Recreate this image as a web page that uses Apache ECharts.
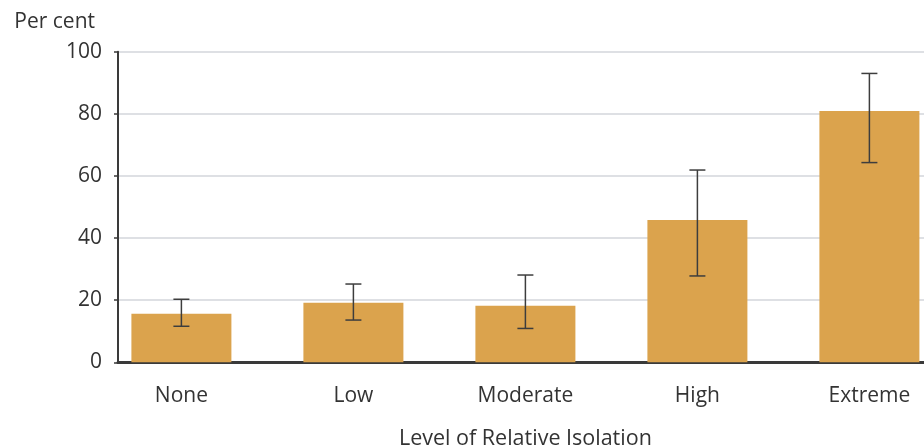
<!DOCTYPE html>
<html><head><meta charset="utf-8">
<script src="https://cdn.jsdelivr.net/npm/echarts@6/dist/echarts.min.js"></script>
<style>html,body{margin:0;padding:0;background:#fff}#c{width:924px;height:448px}</style>
</head><body><div id="c"></div>
<script>
const categories = ['None', 'Low', 'Moderate', 'High', 'Extreme'];
const values = [15.6, 19.2, 18.2, 45.8, 80.9];
const errLow = [11.6, 13.6, 10.9, 27.8, 64.3];
const errHigh = [20.3, 25.2, 28.1, 61.9, 93.0];
const yTicks = [0, 20, 40, 60, 80, 100];

const FONT = 'Open Sans';
const FS = 21;
const TXT = '#333333';
const chart = echarts.init(document.getElementById('c'), null, {renderer: 'canvas'});
const gTop = 51.7, gBottom = 85.7;
chart.setOption({
  animation: false,
  textStyle: {fontFamily: FONT},
  grid: [
    {left: 118, right: 0, top: gTop, bottom: gBottom, containLabel: false, outerBoundsMode: 'none'},
    {left: 95.4, width: 860, top: gTop, bottom: gBottom, containLabel: false, outerBoundsMode: 'none'}
  ],
  xAxis: [
    {gridIndex: 0, type: 'value', min: 0, max: 1,
     axisLine: {show: true, onZero: false, lineStyle: {color: '#3a3a3a', width: 3}},
     axisTick: {show: false}, axisLabel: {show: false}, splitLine: {show: false}},
    {gridIndex: 1, type: 'category', data: categories,
     axisLine: {show: false}, axisTick: {show: false},
     axisLabel: {color: TXT, fontSize: FS, fontFamily: FONT, margin: 23},
     name: 'Level of Relative Isolation', nameLocation: 'middle', nameGap: 66,
     nameTextStyle: {color: TXT, fontSize: 21.5, fontFamily: FONT}}
  ],
  yAxis: [
    {gridIndex: 0, type: 'value', min: yTicks[0], max: yTicks[yTicks.length-1], interval: 20,
     axisLine: {show: true, lineStyle: {color: '#3a3a3a', width: 2}},
     axisTick: {show: true, length: 4, lineStyle: {color: '#3a3a3a', width: 1.5}},
     axisLabel: {color: TXT, fontSize: FS, fontFamily: FONT, margin: 16},
     splitLine: {show: true, lineStyle: {color: '#d3d6db', width: 1.5}},
     name: 'Per cent', nameLocation: 'end', nameGap: 19,
     nameTextStyle: {color: TXT, fontSize: FS, fontFamily: FONT, align: 'right', padding: [0, 23, 0, 0]}},
    {gridIndex: 1, type: 'value', min: 0, max: 100, show: false}
  ],
  series: [
    {type: 'bar', xAxisIndex: 1, yAxisIndex: 1, data: values, barWidth: 100,
     itemStyle: {color: '#DBA34D'}},
    {type: 'custom', xAxisIndex: 1, yAxisIndex: 1,
     data: categories.map((c, i) => [i, errLow[i], errHigh[i]]),
     renderItem: function (params, api) {
       const lo = api.coord([api.value(0), api.value(1)]);
       const hi = api.coord([api.value(0), api.value(2)]);
       const hw = 8;
       const st = {stroke: '#3d3d3d', lineWidth: 1.5};
       return {type: 'group', children: [
         {type: 'line', shape: {x1: lo[0], y1: lo[1], x2: hi[0], y2: hi[1]}, style: st},
         {type: 'line', shape: {x1: lo[0]-hw, y1: lo[1], x2: lo[0]+hw, y2: lo[1]}, style: st},
         {type: 'line', shape: {x1: hi[0]-hw, y1: hi[1], x2: hi[0]+hw, y2: hi[1]}, style: st}
       ]};
     }, z: 5}
  ]
});
</script></body></html>
